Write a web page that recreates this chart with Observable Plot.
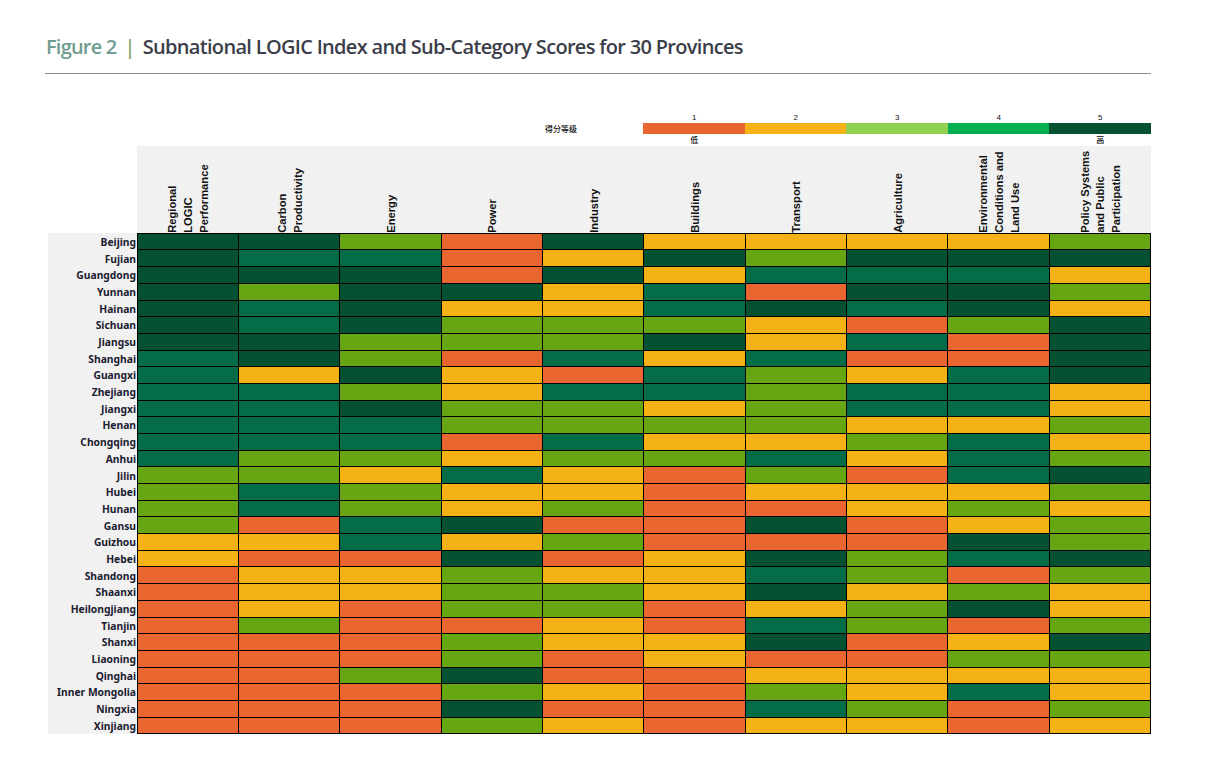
<!DOCTYPE html>
<html>
<head>
<meta charset="utf-8">
<script src="https://cdn.jsdelivr.net/npm/d3@7"></script>
<script src="https://cdn.jsdelivr.net/npm/@observablehq/plot@0.6"></script>
<style>
html,body{margin:0;padding:0;background:#fff;overflow:hidden}
#page{position:relative;width:1215px;height:769px}
#head{position:relative;height:73px;width:1106px;margin-left:45px;border-bottom:1px solid #8b8b90;box-sizing:content-box}
#head div{position:absolute;left:1px;top:35px;font:600 20px/24px "Open Sans",sans-serif;color:#3b3e4a;white-space:nowrap;letter-spacing:-.69px}
#head .fig{color:#6f9c8f;font-weight:600;letter-spacing:-.8px}
#head .bar{color:#8fa56f;font-weight:600;margin:0 8px 0 8px}
.band{position:absolute;background:#f1f1f1}
#grade{position:absolute;left:545px;top:124px;font:500 8px/10px "Noto Sans CJK SC",sans-serif;color:#111}
svg{display:block;position:relative}
#legend,#chart{position:relative}
</style>
</head>
<body>
<div id="page">
  <div class="band" style="left:137px;top:146px;width:1014px;height:87px"></div>
  <div class="band" style="left:48px;top:233px;width:89px;height:501px"></div>
  <div id="head"><div><span class="fig">Figure 2</span><span class="bar">|</span>Subnational LOGIC Index and Sub-Category Scores for 30 Provinces</div></div>
  <div id="legend"></div>
  <div id="grade">得分等级</div>
  <div id="chart"></div>
</div>
<script>
const provinces = ["Beijing","Fujian","Guangdong","Yunnan","Hainan","Sichuan","Jiangsu","Shanghai","Guangxi","Zhejiang","Jiangxi","Henan","Chongqing","Anhui","Jilin","Hubei","Hunan","Gansu","Guizhou","Hebei","Shandong","Shaanxi","Heilongjiang","Tianjin","Shanxi","Liaoning","Qinghai","Inner Mongolia","Ningxia","Xinjiang"];
const categories = ["Regional\nLOGIC\nPerformance","Carbon\nProductivity","Energy","Power","Industry","Buildings","Transport","Agriculture","Environmental\nConditions and\nLand Use","Policy Systems\nand Public\nParticipation"];
const scores = [
 [5,5,3,1,5,2,2,2,2,3],
 [5,4,4,1,2,5,3,5,5,5],
 [5,5,5,1,5,2,4,4,4,2],
 [5,3,5,5,2,4,1,5,5,3],
 [5,4,5,2,2,4,5,4,5,2],
 [5,4,5,3,3,3,2,1,3,5],
 [5,5,3,3,3,5,2,4,1,5],
 [4,5,3,1,4,2,4,1,1,5],
 [4,2,5,2,1,4,3,2,4,5],
 [4,4,3,2,4,4,3,4,4,2],
 [4,4,5,3,3,2,3,4,4,2],
 [4,4,4,3,3,3,3,2,2,3],
 [4,4,4,1,4,2,2,3,4,2],
 [4,3,3,2,3,3,4,2,4,3],
 [3,3,2,4,2,1,3,1,4,5],
 [3,4,3,2,2,1,2,2,2,3],
 [3,4,3,2,3,1,1,2,3,2],
 [3,1,4,5,1,1,5,1,2,3],
 [2,2,4,2,3,1,1,1,5,3],
 [2,1,1,5,1,2,5,3,4,5],
 [1,2,2,3,2,2,4,3,1,3],
 [1,2,2,3,3,2,5,2,3,2],
 [1,2,1,3,3,1,2,3,5,2],
 [1,3,1,1,2,1,4,3,1,3],
 [1,1,1,3,2,2,5,1,2,5],
 [1,1,1,3,1,2,1,1,3,3],
 [1,1,3,5,1,1,2,2,2,2],
 [1,1,1,3,2,1,3,2,4,2],
 [1,1,1,5,1,1,4,3,1,3],
 [1,1,1,3,2,1,2,2,1,2]
];
const levels = [1,2,3,4,5];
const cellColors = ["#E96631","#F4B216","#66A613","#046D47","#055233"];
const legendColors = ["#E96631","#F4B216","#92D14F","#00B050","#055233"];
const levelEnds = [{level:1,text:"低"},{level:5,text:"高"}];

const cells = provinces.flatMap((p,i)=>categories.map((c,j)=>({province:p,category:c,score:scores[i][j]})));

const legend = Plot.plot({
  width:1215,height:72,marginLeft:643,marginRight:64.5,marginTop:49,marginBottom:12,
  style:{background:"transparent"},
  x:{domain:levels,padding:0,round:false,axis:null},
  color:{domain:levels,range:legendColors},
  marks:[
    Plot.cell(levels,{x:d=>d,fill:d=>d,shapeRendering:"crispEdges"}),
    Plot.axisX({anchor:"top",tickSize:0,tickPadding:4,fontSize:8,fontFamily:"Liberation Sans",color:"#111",label:null}),
    Plot.text(levelEnds,{x:"level",text:"text",frameAnchor:"bottom",dy:6,lineAnchor:"middle",fontSize:8,fontWeight:500,fontFamily:"Noto Sans CJK SC",fill:"#111"})
  ]
});
document.getElementById("legend").append(legend);

const chart = Plot.plot({
  width:1215,height:623,marginLeft:137,marginRight:64.5,marginTop:87.3,marginBottom:35.2,
  style:{background:"transparent"},
  x:{domain:categories,padding:0,round:false,axis:null},
  y:{domain:provinces,padding:0,round:false,axis:null},
  color:{domain:levels,range:cellColors},
  marks:[
    Plot.cell(cells,{x:"category",y:"province",fill:"score",stroke:"#000",strokeWidth:1,shapeRendering:"crispEdges"}),
    Plot.axisY({anchor:"left",tickSize:0,tickPadding:1.5,dy:0.5,fontSize:10.3,fontWeight:700,fontFamily:"Noto Sans",color:"#1b2030",label:null}),
    Plot.axisX({anchor:"top",tickSize:0,tickPadding:1,dx:-1,tickRotate:-90,fontSize:11.2,fontWeight:700,fontFamily:"Liberation Sans",color:"#111",label:null,lineHeight:1.42})
  ]
});
document.getElementById("chart").append(chart);
</script>
</body>
</html>
